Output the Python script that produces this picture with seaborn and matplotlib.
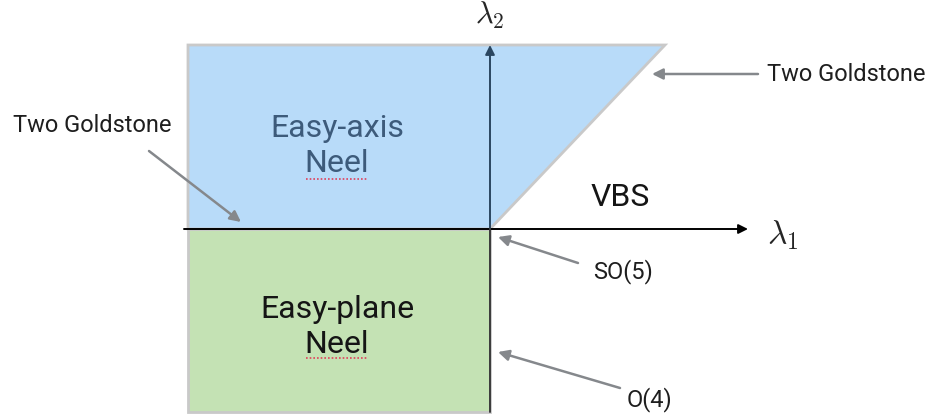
import matplotlib
matplotlib.use("Agg")
import matplotlib.pyplot as plt
import seaborn as sns
import pandas as pd

# ---- data (diagram geometry in lambda units) ----
easy_axis_x = [-3.02, -3.02, 1.75, 0.0]
easy_axis_y = [0.0, 1.84, 1.84, 0.0]
easy_plane_x = [-3.02, -3.02, 0.0, 0.0]
easy_plane_y = [0.0, -1.83, -1.83, 0.0]
lam1_axis = [-3.06, 2.58]
lam2_axis = [-1.83, 1.84]

region_labels = ["Easy-axis\nNeel", "Easy-plane\nNeel", "VBS"]
region_label_x = [-1.53, -1.53, 1.30]
region_label_y = [0.83, -0.98, 0.32]

note_labels = ["Two Goldstone", "Two Goldstone", "SO(5)", "O(4)"]
note_text_x = [2.77, -3.98, 1.33, 1.60]
note_text_y = [1.55, 1.04, -0.43, -1.71]
note_tail_x = [2.68, -3.41, 0.88, 1.30]
note_tail_y = [1.55, 0.78, -0.34, -1.59]
note_head_x = [1.62, -2.49, 0.08, 0.08]
note_head_y = [1.55, 0.07, -0.08, -1.23]

underline_x = [-1.84, -1.23]
underline_y = [0.50, -1.29]

sns.set_theme(style="white")
plt.rcParams["font.family"] = ["Roboto", "DejaVu Sans"]
plt.rcParams["mathtext.fontset"] = "cm"

fig = plt.figure(figsize=(9.33, 4.15), dpi=100)
ax = fig.add_axes([0, 0, 1, 1])
ax.set_xlim(-4.90, 4.43)
ax.set_ylim(-1.86, 2.29)
ax.axis("off")

ax.fill(easy_axis_x, easy_axis_y, facecolor="#b8dbf9", edgecolor="#c9c9c9", lw=2, zorder=1)
ax.fill(easy_plane_x, easy_plane_y, facecolor="#c4e2b4", edgecolor="#c9c9c9", lw=2, zorder=1)

# axes arrows
ax.annotate("", xy=(lam1_axis[1], 0), xytext=(lam1_axis[0], 0),
            arrowprops=dict(arrowstyle="-|>", color="black", lw=1.4,
                            mutation_scale=14, shrinkA=0, shrinkB=0), zorder=3)
ax.annotate("", xy=(0, lam2_axis[1]), xytext=(0, 0),
            arrowprops=dict(arrowstyle="-|>", color="#2b4660", lw=1.4,
                            mutation_scale=14, shrinkA=0, shrinkB=0), zorder=3)
lower = pd.DataFrame({"x": [0, 0], "y": [lam2_axis[0], 0]})
sns.lineplot(data=lower, x="x", y="y", ax=ax, color="#3a3a3a", lw=1.4, zorder=3,
             estimator=None, sort=False)
ax.text(lam1_axis[1] + 0.35, -0.06, r"$\lambda_1$", fontsize=24, ha="center", va="center")
ax.text(0, lam2_axis[1] + 0.30, r"$\lambda_2$", fontsize=22, ha="center", va="center")

colors = ["#3d5b7b", "#151515", "#151515"]
for lab, x, y, c in zip(region_labels, region_label_x, region_label_y, colors):
    ax.text(x, y, lab, fontsize=23, ha="center", va="center", color=c,
            fontweight="normal", linespacing=1.3, zorder=4)

for i, lab in enumerate(note_labels):
    ha = "left" if i == 0 else "center"
    ax.text(note_text_x[i], note_text_y[i], lab, fontsize=17, ha=ha, va="center",
            color="#1e1e1e", fontweight="normal", zorder=4)
    ax.annotate("", xy=(note_head_x[i], note_head_y[i]),
                xytext=(note_tail_x[i], note_tail_y[i]),
                arrowprops=dict(arrowstyle="-|>", color="#85888c", lw=1.8,
                                mutation_scale=16, shrinkA=0, shrinkB=0), zorder=4)

for uy in underline_y:
    df = pd.DataFrame({"x": underline_x, "y": [uy, uy]})
    sns.lineplot(data=df, x="x", y="y", ax=ax, color="#e0405a", lw=1.2,
                 linestyle=(0, (1, 1.2)), zorder=5)

ax.set_xlim(-4.90, 4.43)
ax.set_ylim(-1.86, 2.29)
ax.axis("off")
fig.savefig("out.png", dpi=100)
